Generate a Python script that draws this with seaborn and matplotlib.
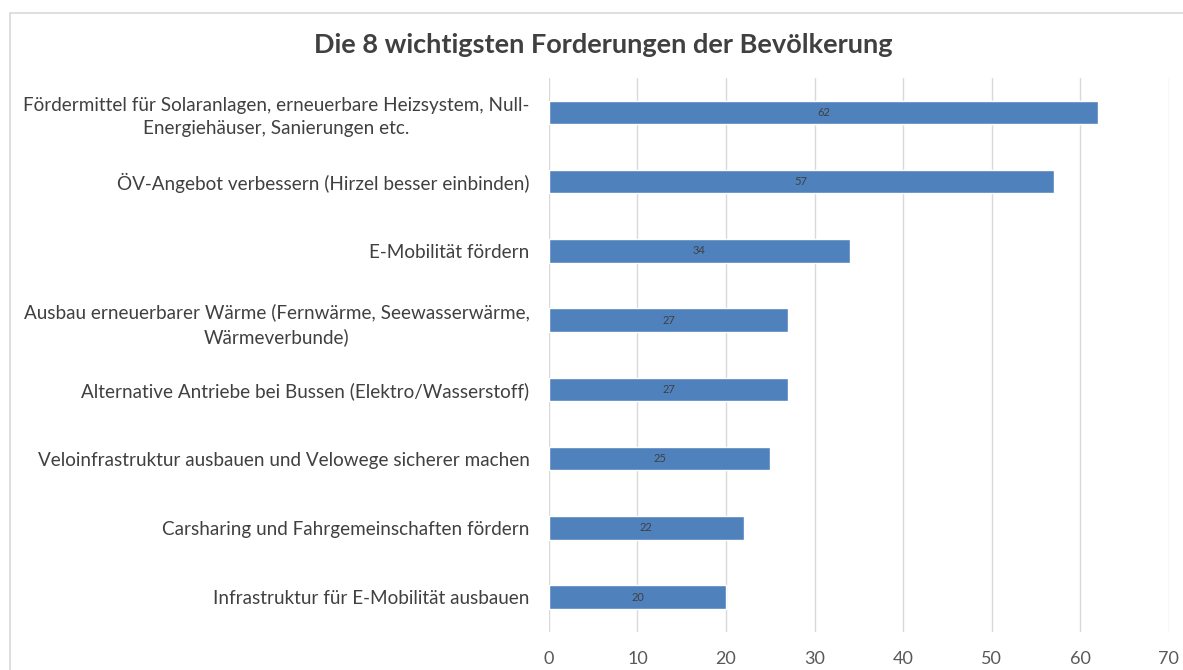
import matplotlib
matplotlib.use("Agg")
import matplotlib.pyplot as plt
import seaborn as sns
import pandas as pd
from matplotlib.patches import Rectangle

# Daten
forderungen = [
    "Fördermittel für Solaranlagen, erneuerbare Heizsystem, Null-\nEnergiehäuser, Sanierungen etc.",
    "ÖV-Angebot verbessern (Hirzel besser einbinden)",
    "E-Mobilität fördern",
    "Ausbau erneuerbarer Wärme (Fernwärme, Seewasserwärme,\nWärmeverbunde)",
    "Alternative Antriebe bei Bussen (Elektro/Wasserstoff)",
    "Veloinfrastruktur ausbauen und Velowege sicherer machen",
    "Carsharing und Fahrgemeinschaften fördern",
    "Infrastruktur für E-Mobilität ausbauen",
]
anzahl = [62, 57, 34, 27, 27, 25, 22, 20]
x_ticks = [0, 10, 20, 30, 40, 50, 60, 70]

df = pd.DataFrame({"Forderung": forderungen, "Anzahl": anzahl})

sns.set_theme(style="white")
plt.rcParams['font.family'] = ['Lato', 'DejaVu Sans']

fig = plt.figure(figsize=(11.83, 6.70), dpi=100)
ax = fig.add_axes([0.464, 0.057, 0.524, 0.827])

# Rahmen wie im Excel-Diagramm
fig.patches.append(Rectangle((10 / 1183, -0.1), 1.2, 1.1 - 13 / 670,
                             transform=fig.transFigure, fill=False,
                             edgecolor="#d9d9d9", linewidth=1.2))

sns.barplot(data=df, x="Anzahl", y="Forderung", orient="h", color="#4f81bd",
            saturation=1, width=0.34, ax=ax, zorder=3)

for i, v in enumerate(anzahl):
    ax.text(v / 2, i, str(v), ha="center", va="center", fontsize=8, color="#404040", zorder=4)

ax.set_xlim(0, 70)
ax.set_xticks(x_ticks)
ax.set_ylim(len(forderungen) - 0.5, -0.5)
ax.grid(axis="x", color="#d9d9d9", linewidth=1.0, zorder=0)
ax.set_axisbelow(True)
for s in ax.spines.values():
    s.set_visible(False)
ax.set_xlabel("")
ax.set_ylabel("")
ax.tick_params(axis="x", length=0, pad=14, labelsize=13, labelcolor="#595959")
ax.tick_params(axis="y", length=0, pad=14, labelsize=13.6, labelcolor="#404040")
for lbl in ax.get_yticklabels():
    lbl.set_multialignment("center")
    lbl.set_linespacing(1.45)

fig.text(603 / 1183, 1 - 45 / 670, "Die 8 wichtigsten Forderungen der Bevölkerung",
         ha="center", va="center", fontsize=19.5, fontweight="bold", color="#404040")

fig.savefig("out.png", dpi=100)
